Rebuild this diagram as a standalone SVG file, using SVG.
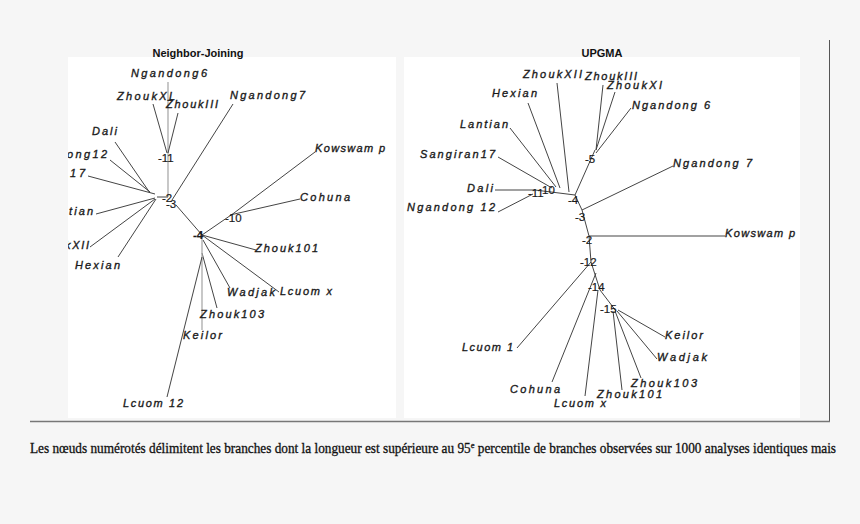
<svg xmlns="http://www.w3.org/2000/svg" width="860" height="524" viewBox="0 0 860 524">
<style>
.leaf{font-family:"Liberation Sans",Arial,sans-serif;font-size:11px;font-style:italic;fill:#1a1a1a;stroke:#1a1a1a;stroke-width:0.35}
.num{font-family:"Liberation Sans",Arial,sans-serif;font-size:11.5px;fill:#1a1a1a;stroke:#1a1a1a;stroke-width:0.2}
.title{font-family:"Liberation Sans",Arial,sans-serif;font-size:11px;font-weight:bold;fill:#111}
.br{stroke:#3a3a3a;stroke-width:0.95;fill:none}
.brg{stroke:#aaa;stroke-width:1.3;fill:none}
.cap{font-family:"Liberation Serif","Times New Roman",serif;font-size:14px;fill:#111;stroke:#111;stroke-width:0.3}
</style>
<defs>
<clipPath id="clipL"><rect x="68" y="57" width="328" height="361"/></clipPath>
</defs>
<rect x="0" y="0" width="860" height="524" fill="#f6f6f6"/>
<rect x="68" y="57" width="328" height="361" fill="#ffffff"/>
<rect x="404" y="57" width="396" height="361" fill="#ffffff"/>
<line x1="829.5" y1="40" x2="829.5" y2="421" stroke="#555" stroke-width="1"/>
<line x1="30" y1="421.5" x2="830" y2="421.5" stroke="#777" stroke-width="1.6"/>

<text class="title" x="198" y="57" text-anchor="middle">Neighbor-Joining</text>
<text class="title" x="602" y="57" text-anchor="middle">UPGMA</text>

<g id="connectors">
<g id="nj-edges">
<line class="brg" x1="168" y1="82" x2="168" y2="197"/>
<line class="br" x1="153" y1="104" x2="167" y2="153"/>
<line class="br" x1="178" y1="113" x2="168" y2="153"/>
<line class="br" x1="233" y1="104" x2="172" y2="200"/>
<line class="br" x1="157" y1="197" x2="168" y2="197"/>
<line class="br" x1="115" y1="142" x2="150" y2="193"/>
<line class="br" x1="110" y1="160" x2="150" y2="192"/>
<line class="br" x1="88" y1="176" x2="155" y2="194"/>
<line class="br" x1="96" y1="214" x2="155" y2="198"/>
<line class="br" x1="90" y1="247" x2="155" y2="199"/>
<line class="br" x1="118" y1="257" x2="156" y2="199"/>
<line class="br" x1="176" y1="205" x2="202" y2="235"/>
<line class="br" x1="202" y1="235" x2="234" y2="213"/>
<line class="br" x1="234" y1="213" x2="315" y2="152"/>
<line class="br" x1="230" y1="215" x2="300" y2="199"/>
<line class="br" x1="202" y1="235" x2="256" y2="250"/>
<line class="br" x1="202" y1="235" x2="279" y2="292"/>
<line class="br" x1="203" y1="240" x2="230" y2="288"/>
<line class="br" x1="202" y1="253" x2="217" y2="308"/>
<line class="brg" x1="202" y1="238" x2="202" y2="330"/>
<line class="br" x1="202" y1="257" x2="167" y2="397"/>
</g>
<g id="upgma-edges">
<line class="br" x1="557" y1="83" x2="569" y2="192"/>
<line class="br" x1="603" y1="85" x2="596" y2="150"/>
<line class="br" x1="615" y1="92" x2="596" y2="150"/>
<line class="br" x1="631" y1="108" x2="596" y2="153"/>
<line class="br" x1="595" y1="150" x2="575" y2="195"/>
<line class="br" x1="528" y1="103" x2="560" y2="188"/>
<line class="br" x1="510" y1="128" x2="556" y2="187"/>
<line class="br" x1="498" y1="157" x2="552" y2="188"/>
<line class="br" x1="495" y1="190" x2="535" y2="190"/>
<line class="br" x1="498" y1="212" x2="533" y2="194"/>
<line class="br" x1="535" y1="190" x2="575" y2="195"/>
<line class="br" x1="575" y1="195" x2="582" y2="210"/>
<line class="br" x1="582" y1="210" x2="673" y2="166"/>
<line class="br" x1="582" y1="210" x2="589" y2="236"/>
<line class="br" x1="589" y1="236" x2="725" y2="236"/>
<line class="br" x1="589" y1="236" x2="591" y2="262"/>
<line class="br" x1="591" y1="262" x2="517" y2="348"/>
<line class="br" x1="591" y1="262" x2="600" y2="290"/>
<line class="br" x1="596" y1="273" x2="552" y2="382"/>
<line class="br" x1="598" y1="290" x2="585" y2="396"/>
<line class="br" x1="600" y1="290" x2="616" y2="311"/>
<line class="br" x1="613" y1="311" x2="622" y2="390"/>
<line class="br" x1="615" y1="311" x2="641" y2="378"/>
<line class="br" x1="617" y1="311" x2="657" y2="359"/>
<line class="br" x1="618" y1="310" x2="665" y2="337"/>
</g>
</g>

<g id="nj-Ngandong6"><text class="leaf" x="131" y="77" textLength="76" lengthAdjust="spacing">Ngandong6</text></g>
<g id="nj-ZhoukXL"><text class="leaf" x="117" y="100" textLength="58" lengthAdjust="spacing">ZhoukXL</text></g>
<g id="nj-ZhoukIII"><text class="leaf" x="166" y="108" textLength="52" lengthAdjust="spacing">ZhoukIII</text></g>
<g id="nj-Ngandong7"><text class="leaf" x="230" y="99" textLength="75" lengthAdjust="spacing">Ngandong7</text></g>
<g id="nj-Dali"><text class="leaf" x="92" y="135" textLength="25" lengthAdjust="spacing">Dali</text></g>
<g id="nj-Ngandong12"><text class="leaf" x="67" y="158" textLength="40" lengthAdjust="spacing" clip-path="url(#clipL)">ong12</text></g>
<g id="nj-Sangiran17"><text class="leaf" x="70" y="177" textLength="15" lengthAdjust="spacing">17</text></g>
<g id="nj-Lantian"><text class="leaf" x="69" y="215" textLength="24" lengthAdjust="spacing">tian</text></g>
<g id="nj-ZhoukXII" clip-path="url(#clipL)"><text class="leaf" x="65" y="249" textLength="24" lengthAdjust="spacing">kXII</text></g>
<g id="nj-Hexian"><text class="leaf" x="75" y="269" textLength="45" lengthAdjust="spacing">Hexian</text></g>
<g id="nj-Kowswamp"><text class="leaf" x="315" y="152" textLength="70" lengthAdjust="spacing">Kowswam p</text></g>
<g id="nj-Cohuna"><text class="leaf" x="300" y="201" textLength="50" lengthAdjust="spacing">Cohuna</text></g>
<g id="nj-Zhouk101"><text class="leaf" x="255" y="252" textLength="63" lengthAdjust="spacing">Zhouk101</text></g>
<g id="nj-Lcuomx"><text class="leaf" x="280" y="295" textLength="52" lengthAdjust="spacing">Lcuom x</text></g>
<g id="nj-Wadjak"><text class="leaf" x="227" y="296" textLength="48" lengthAdjust="spacing">Wadjak</text></g>
<g id="nj-Zhouk103"><text class="leaf" x="200" y="318" textLength="64" lengthAdjust="spacing">Zhouk103</text></g>
<g id="nj-Keilor"><text class="leaf" x="183" y="339" textLength="39" lengthAdjust="spacing">Keilor</text></g>
<g id="nj-Lcuom12"><text class="leaf" x="123" y="407" textLength="60" lengthAdjust="spacing">Lcuom 12</text></g>
<g id="nj-n11"><text class="num" x="158" y="162">-11</text></g>
<g id="nj-n2"><text class="num" x="162" y="202">-2</text></g>
<g id="nj-n3"><text class="num" x="166" y="208">-3</text></g>
<g id="nj-n10"><text class="num" x="225" y="222">-10</text></g>
<g id="nj-n4"><text class="num" x="193" y="239" font-weight="bold">-4</text></g>

<g id="up-ZhoukXII"><text class="leaf" x="523" y="78" textLength="59" lengthAdjust="spacing">ZhoukXII</text></g>
<g id="up-ZhoukIII"><text class="leaf" x="585" y="80" textLength="52" lengthAdjust="spacing">ZhoukIII</text></g>
<g id="up-ZhoukXI"><text class="leaf" x="607" y="89" textLength="55" lengthAdjust="spacing">ZhoukXI</text></g>
<g id="up-Ngandong6"><text class="leaf" x="632" y="109" textLength="78" lengthAdjust="spacing">Ngandong 6</text></g>
<g id="up-Hexian"><text class="leaf" x="492" y="97" textLength="45" lengthAdjust="spacing">Hexian</text></g>
<g id="up-Lantian"><text class="leaf" x="460" y="128" textLength="48" lengthAdjust="spacing">Lantian</text></g>
<g id="up-Sangiran17"><text class="leaf" x="420" y="158" textLength="75" lengthAdjust="spacing">Sangiran17</text></g>
<g id="up-Dali"><text class="leaf" x="467" y="192" textLength="26" lengthAdjust="spacing">Dali</text></g>
<g id="up-Ngandong12"><text class="leaf" x="407" y="211" textLength="88" lengthAdjust="spacing">Ngandong 12</text></g>
<g id="up-Ngandong7"><text class="leaf" x="673" y="167" textLength="79" lengthAdjust="spacing">Ngandong 7</text></g>
<g id="up-Kowswamp"><text class="leaf" x="725" y="237" textLength="70" lengthAdjust="spacing">Kowswam p</text></g>
<g id="up-Lcuom1"><text class="leaf" x="462" y="351" textLength="51" lengthAdjust="spacing">Lcuom 1</text></g>
<g id="up-Cohuna"><text class="leaf" x="510" y="393" textLength="50" lengthAdjust="spacing">Cohuna</text></g>
<g id="up-Lcuomx"><text class="leaf" x="554" y="407" textLength="52" lengthAdjust="spacing">Lcuom x</text></g>
<g id="up-Zhouk101"><text class="leaf" x="597" y="398" textLength="65" lengthAdjust="spacing">Zhouk101</text></g>
<g id="up-Zhouk103"><text class="leaf" x="631" y="387" textLength="66" lengthAdjust="spacing">Zhouk103</text></g>
<g id="up-Wadjak"><text class="leaf" x="657" y="361" textLength="50" lengthAdjust="spacing">Wadjak</text></g>
<g id="up-Keilor"><text class="leaf" x="665" y="339" textLength="38" lengthAdjust="spacing">Keilor</text></g>
<g id="up-n5"><text class="num" x="585" y="163">-5</text></g>
<g id="up-n11"><text class="num" x="528" y="197">-11</text></g>
<g id="up-n10"><text class="num" x="542" y="194">10</text></g>
<g id="up-n4"><text class="num" x="568" y="204">-4</text></g>
<g id="up-n3"><text class="num" x="575" y="221">-3</text></g>
<g id="up-n2"><text class="num" x="582" y="244">-2</text></g>
<g id="up-n12"><text class="num" x="580" y="266">-12</text></g>
<g id="up-n14"><text class="num" x="588" y="291">-14</text></g>
<g id="up-n15"><text class="num" x="600" y="313">-15</text></g>

<text class="cap" x="30" y="453" textLength="806" lengthAdjust="spacingAndGlyphs">Les nœuds numérotés délimitent les branches dont la longueur est supérieure au 95<tspan font-size="9" dy="-5">e</tspan><tspan dy="5"> percentile de branches observées sur 1000 analyses identiques mais</tspan></text>
</svg>
